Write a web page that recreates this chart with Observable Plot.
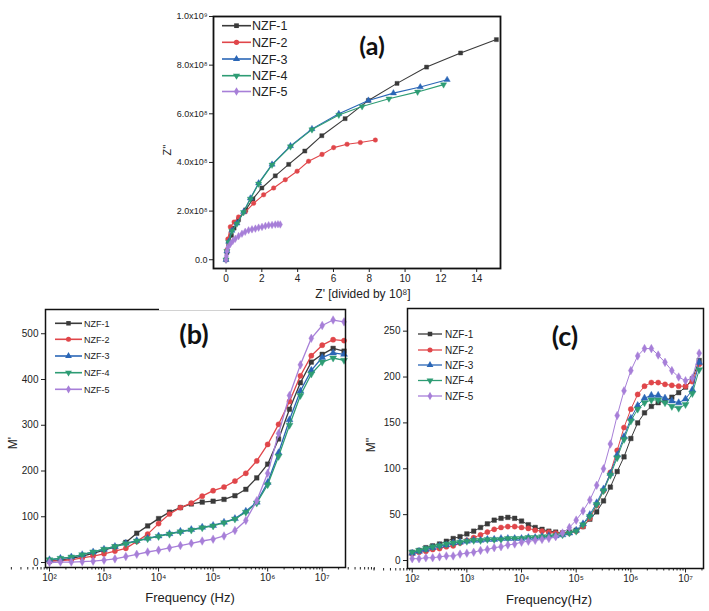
<!DOCTYPE html>
<html><head><meta charset="utf-8">
<script src="https://cdn.jsdelivr.net/npm/d3@7"></script>
<script src="https://cdn.jsdelivr.net/npm/@observablehq/plot@0.6"></script>
<style>
body{margin:0;background:#fff;}
#fig{position:relative;width:709px;height:611px;overflow:hidden;background:#fff;}
</style></head><body><div id="fig"></div>
<script>
// ---------- shared ----------
const series = ["NZF-1","NZF-2","NZF-3","NZF-4","NZF-5"];
const colors = ["#3a3a3a","#e0464a","#2a66b6","#2e9c74","#a77fd8"];
const symbols = ["square","circle","triangle","triangle","diamond"];
const rotations = [0,0,0,180,0];

// ---------- (a) Nyquist: Z' and Z'' in units of 10^8 ----------
const aZr1 = [0,0.05,0.15,0.3,0.45,0.7,1.1,1.5,2.0,2.75,3.5,4.4,5.35,6.65,7.95,9.55,11.2,13.1,15.1];
const aZi1 = [0,0.3,0.65,1.0,1.3,1.65,2.05,2.5,2.95,3.45,3.92,4.47,5.1,5.8,6.55,7.25,7.92,8.5,9.05];
const aZr2 = [0,0.05,0.1,0.24,0.45,0.7,1.08,1.54,2.1,2.66,3.31,3.97,4.61,5.36,6.01,6.76,7.5,8.34];
const aZi2 = [0,0.4,0.85,1.35,1.55,1.76,1.97,2.32,2.67,2.95,3.29,3.64,4.05,4.33,4.61,4.75,4.82,4.92];
const aZr3 = [0,0.05,0.15,0.33,0.61,0.98,1.36,1.82,2.57,3.6,4.8,6.3,7.95,9.35,10.85,12.35];
const aZi3 = [0,0.35,0.75,1.2,1.5,1.97,2.53,3.15,3.92,4.68,5.38,6.0,6.55,6.85,7.1,7.4];
const aZr4 = [0,0.05,0.15,0.33,0.61,0.98,1.36,1.82,2.57,3.6,4.8,6.3,7.6,9.1,10.7,12.15];
const aZi4 = [0,0.35,0.72,1.18,1.48,1.95,2.5,3.12,3.9,4.65,5.35,5.95,6.3,6.62,6.9,7.2];
const aZr5 = [0,0.02,0.05,0.1,0.24,0.38,0.52,0.7,0.89,1.07,1.26,1.45,1.64,1.82,2.01,2.2,2.38,2.57,2.75,2.9,3.03];
const aZi5 = [0,0.15,0.35,0.5,0.65,0.77,0.86,0.97,1.07,1.15,1.21,1.25,1.28,1.32,1.35,1.39,1.42,1.43,1.45,1.46,1.45];
const aXTicks = [0,2,4,6,8,10,12,14];
const aYTicks = [0,2,4,6,8,10];
const aYTickLabels = ["0.0","2.0x10⁸","4.0x10⁸","6.0x10⁸","8.0x10⁸","1.0x10⁹"];

// ---------- (b) M' vs frequency (log10 f) ----------
const logFb = [2.0,2.2,2.4,2.6,2.8,3.0,3.2,3.4,3.6,3.8,4.0,4.2,4.4,4.6,4.8,5.0,5.2,5.4,5.6,5.8,6.0,6.2,6.4,6.6,6.8,7.0,7.2,7.4];
const bM1 = [3,5,9,14,20,27,34,44,64,80,96,110,120,128,132,134,138,146,160,185,215,270,335,393,438,455,468,462];
const bM2 = [3,4,6,10,14,19,25,31,46,62,85,106,120,130,145,157,165,178,195,222,258,302,352,408,452,475,487,485];
const bM3 = [6,9,12,17,23,29,35,42,48,53,58,63,68,72,77,81,88,96,112,132,175,240,312,375,420,448,458,455];
const bM4 = [6,9,12,17,23,29,35,41,47,52,57,62,67,71,76,80,87,95,110,130,170,232,300,365,412,438,447,442];
const bM5 = [0,1,1,2,3,5,8,13,18,23,27,32,37,42,47,51,58,70,92,135,195,282,365,432,490,518,530,526];
const bYTicks = [0,100,200,300,400,500];

// ---------- (c) M'' vs frequency (log10 f) ----------
const logFc = [2.0,2.125,2.25,2.375,2.5,2.625,2.75,2.875,3.0,3.125,3.25,3.375,3.5,3.625,3.75,3.875,4.0,4.125,4.25,4.375,4.5,4.625,4.75,4.875,5.0,5.125,5.25,5.375,5.5,5.625,5.75,5.875,6.0,6.125,6.25,6.375,6.5,6.625,6.75,6.875,7.0,7.125,7.25];
const cM1 = [9,11,14,16,18,21,24,26,29,32,36,40,44,46,47,46,43,39,36,34,32,31,30,31,33,37,45,53,65,80,97,113,133,150,161,168,172,174,178,183,189,198,218];
const cM2 = [7,9,10,12,13,15,16,19,22,25,28,31,34,36,37,37,36,35,33,32,31,30,30,30,32,37,46,60,76,96,120,145,165,181,190,194,194,192,191,190,190,195,214];
const cM3 = [8,10,12,14,16,17,19,20,21,22,22,23,23,24,24,24,24,25,25,26,27,27,28,30,33,40,50,63,78,95,115,135,155,169,177,180,180,177,174,172,176,186,216];
const cM4 = [9,11,13,15,16,18,19,20,21,22,22,23,23,23,24,24,24,25,25,26,26,27,28,30,32,39,48,61,76,93,112,132,152,165,172,175,175,172,168,166,170,182,208];
const cM5 = [2,2,3,3,4,5,5,7,8,9,11,12,14,15,17,18,20,21,22,23,24,26,30,36,44,54,66,82,100,127,158,185,207,223,231,231,224,216,207,200,196,199,226];
const cYTicks = [0,50,100,150,200,250];

const freqTicks = [1e2,1e3,1e4,1e5,1e6,1e7];
const freqTickLabels = ["10²","10³","10⁴","10⁵","10⁶","10⁷"];

// ---------- helpers ----------
const FONT = '"Liberation Sans", Arial, Helvetica, sans-serif';
const fig = document.getElementById("fig");
function place(el, left, top){
  el.style.position = "absolute"; el.style.left = left + "px"; el.style.top = top + "px";
  fig.appendChild(el);
}
function seriesMarks(datasets, r, sw){
  const marks = [];
  datasets.forEach((d, i) => {
    marks.push(Plot.line(d, {x: "x", y: "y", stroke: colors[i], strokeWidth: sw}));
    marks.push(Plot.dot(d, {x: "x", y: "y", fill: colors[i], stroke: colors[i], strokeWidth: 0.4,
      symbol: symbols[i], rotate: rotations[i], r}));
  });
  return marks;
}
const minorFreq = [];
for (let e = 1; e <= 7; e++) for (let k = 2; k <= 9; k++) minorFreq.push(k * 10 ** e);

// ---------- panel (a) ----------
const aData = [[aZr1,aZi1],[aZr2,aZi2],[aZr3,aZi3],[aZr4,aZi4],[aZr5,aZi5]]
  .map(([xs, ys]) => xs.map((v, j) => ({x: v, y: ys[j]})));
const pa = Plot.plot({
  width: 360, height: 310, marginLeft: 63, marginRight: 10, marginTop: 16, marginBottom: 42,
  style: {fontFamily: FONT, fontSize: "9px", color: "#222", background: "transparent", overflow: "visible"},
  x: {domain: [-0.7, 15.33]},
  y: {domain: [-0.36, 10.0]},
  marks: [
    Plot.axisX({ticks: aXTicks, tickSize: 4, label: null, fontSize: 10, tickPadding: 2}),
    Plot.axisY({ticks: aYTicks, tickSize: 4, label: null, fontSize: 9, tickPadding: 2,
      tickFormat: d => aYTickLabels[aYTicks.indexOf(d)]}),
    ...seriesMarks(aData, 2.3, 1.1),
    Plot.frame({stroke: "#111", strokeWidth: 1.8})
  ]
});
place(pa, 150, 0);

// ---------- panel (b) ----------
const bData = [bM1,bM2,bM3,bM4,bM5].map(vs => logFb.map((L, j) => ({x: 10 ** L, y: vs[j]})));
const pb = Plot.plot({
  width: 355, height: 311, marginLeft: 45, marginRight: 10, marginTop: 9, marginBottom: 44,
  style: {fontFamily: FONT, fontSize: "10px", color: "#222", background: "transparent", overflow: "visible"},
  x: {type: "log", domain: [10 ** 1.927, 10 ** 7.427]},
  y: {domain: [-10.9, 553]},
  marks: [
    Plot.axisX({ticks: minorFreq, tickSize: 2.5, tickFormat: () => "", label: null}),
    Plot.axisX({ticks: freqTicks, tickSize: 4.5, label: null, tickPadding: 2,
      tickFormat: d => freqTickLabels[freqTicks.indexOf(d)]}),
    Plot.axisY({ticks: bYTicks, tickSize: 4, label: null, tickPadding: 3}),
    ...seriesMarks(bData, 2.6, 1.3),
    Plot.frame({stroke: "#111", strokeWidth: 1.5})
  ]
});
place(pb, 0, 300);

// ---------- panel (c) ----------
const cData = [cM1,cM2,cM3,cM4,cM5].map(vs => logFc.map((L, j) => ({x: 10 ** L, y: vs[j]})));
const pc = Plot.plot({
  width: 354, height: 311, marginLeft: 52, marginRight: 6, marginTop: 8, marginBottom: 43,
  style: {fontFamily: FONT, fontSize: "10px", color: "#222", background: "transparent", overflow: "visible"},
  x: {type: "log", domain: [10 ** 1.914, 10 ** 7.329]},
  y: {domain: [-8.7, 274.7]},
  marks: [
    Plot.axisX({ticks: minorFreq, tickSize: 2.5, tickFormat: () => "", label: null}),
    Plot.axisX({ticks: freqTicks, tickSize: 4.5, label: null, tickPadding: 2,
      tickFormat: d => freqTickLabels[freqTicks.indexOf(d)]}),
    Plot.axisY({ticks: cYTicks, tickSize: 4, label: null, tickPadding: 3}),
    ...seriesMarks(cData, 2.6, 1.0),
    Plot.frame({stroke: "#111", strokeWidth: 1.5})
  ]
});
place(pc, 355, 300);

// ---------- overlay: legends, panel letters, axis titles ----------
const ov = d3.select(fig).append("svg")
  .attr("width", 709).attr("height", 611)
  .style("position", "absolute").style("left", "0px").style("top", "0px")
  .style("pointer-events", "none").style("font-family", FONT);

// gap in top border of panel (b), as in the reference
ov.append("line").attr("x1", 159).attr("x2", 230).attr("y1", 309).attr("y2", 309)
  .attr("stroke", "#fff").attr("stroke-width", 2.5);

const d3Sym = [d3.symbolSquare, d3.symbolCircle, d3.symbolTriangle, d3.symbolTriangle, d3.symbolDiamond];
function legend(x0, x1, tx, ys, fs, symSize, sw){
  series.forEach((s, i) => {
    const y = ys[i];
    ov.append("line").attr("x1", x0).attr("x2", x1).attr("y1", y).attr("y2", y)
      .attr("stroke", colors[i]).attr("stroke-width", sw);
    ov.append("path").attr("d", d3.symbol(d3Sym[i], symSize)())
      .attr("transform", `translate(${(x0 + x1) / 2},${y}) rotate(${rotations[i]})`)
      .attr("fill", colors[i]);
    ov.append("text").attr("x", tx).attr("y", y).attr("dy", "0.36em")
      .attr("font-size", fs).attr("fill", "#222").text(s);
  });
}
legend(222, 251, 252, [25.7, 42.3, 59, 75.7, 91.5], 12.5, 22, 1.6);
legend(55, 82, 84, [323.3, 339.3, 356, 372.7, 389.3], 9, 20, 1.6);
legend(418, 442, 445, [334, 350, 365, 380.5, 396], 10, 20, 1.3);

function label(txt, x, y, fs, opts = {}){
  const t = ov.append("text").attr("x", x).attr("y", y).attr("dy", "0.35em")
    .attr("text-anchor", "middle").attr("font-size", fs).attr("fill", opts.fill || "#222").text(txt);
  if (opts.rotate) t.attr("transform", `rotate(-90 ${x} ${y})`);
  if (opts.bold) t.attr("font-weight", "bold").attr("font-family", "Lato, 'Open Sans', sans-serif").attr("fill", "#111");
  return t;
}
label("(a)", 372, 46, 25, {bold: true});
label("(b)", 194, 335, 27, {bold: true});
label("(c)", 565, 337, 27, {bold: true});
label("Z' [divided by 10⁸]", 363, 294, 12);
label("Z''", 167, 150, 11, {rotate: true});
label("Frequency (Hz)", 190, 597, 13);
label("M'", 13, 443, 12, {rotate: true});
label("Frequency(Hz)", 549, 599, 13);
label("M''", 371, 445, 12, {rotate: true});
</script>
</body></html>
